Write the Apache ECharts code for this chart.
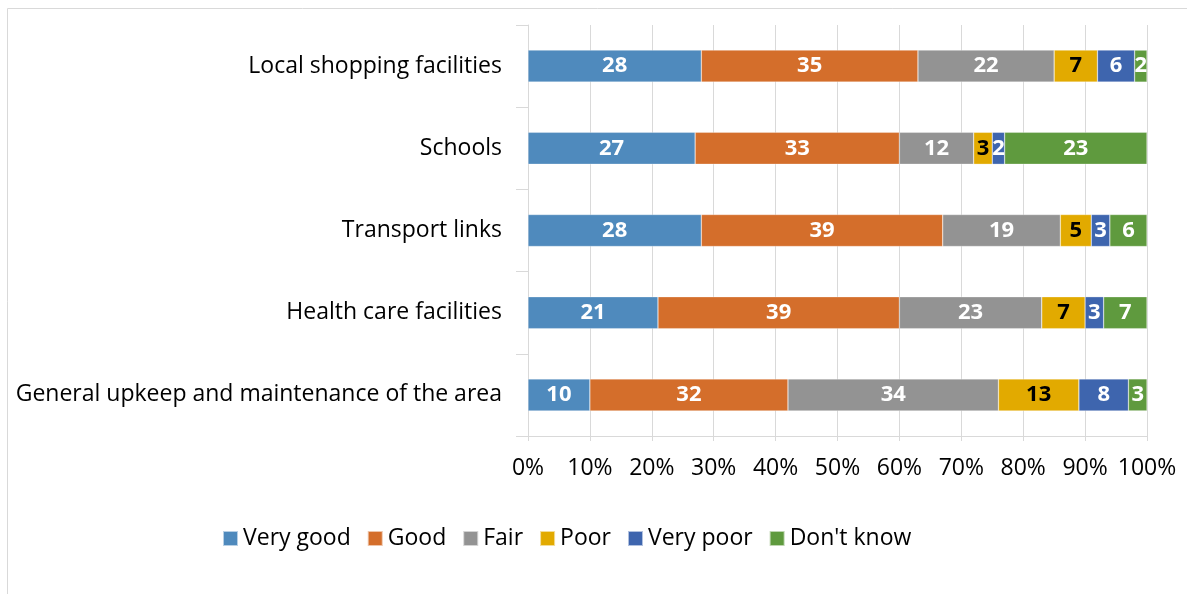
<!DOCTYPE html>
<html>
<head>
<meta charset="utf-8">
<script src="https://cdn.jsdelivr.net/npm/echarts@6/dist/echarts.min.js"></script>
<style>
  html, body { margin: 0; padding: 0; background: #fff; }
  #chart { width: 1187px; height: 594px; }
</style>
</head>
<body>
<div id="chart"></div>
<script>
// Survey ratings of local services, top row first
const categories = [
  'Local shopping facilities',
  'Schools',
  'Transport links',
  'Health care facilities',
  'General upkeep and maintenance of the area'
];
const seriesNames = ['Very good', 'Good', 'Fair', 'Poor', 'Very poor', "Don't know"];
const veryGood = [28, 27, 28, 21, 10];
const good     = [35, 33, 39, 39, 32];
const fair     = [22, 12, 19, 23, 34];
const poor     = [7, 3, 5, 7, 13];
const veryPoor = [6, 2, 3, 3, 8];
const dontKnow = [2, 23, 6, 7, 3];
const xTicks = [0, 10, 20, 30, 40, 50, 60, 70, 80, 90, 100];

const colors = ['#4F8ABD', '#D46E2B', '#939393', '#E2AA00', '#3E65AE', '#5F9A3E'];
const labelColors = ['#fff', '#fff', '#fff', '#000', '#fff', '#fff'];
const values = [veryGood, good, fair, poor, veryPoor, dontKnow];
const FONT = 'Open Sans';

const chart = echarts.init(document.getElementById('chart'));
chart.setOption({
  animation: false,
  textStyle: { fontFamily: FONT },
  graphic: [{
    type: 'rect',
    shape: { x: 7.5, y: 8.5, width: 1200, height: 600 },
    style: { fill: 'none', stroke: '#d9d9d9', lineWidth: 1 },
    silent: true
  }],
  legend: {
    data: seriesNames,
    top: 522,
    left: 217,
    icon: 'rect',
    itemWidth: 15,
    itemHeight: 15,
    itemGap: 16,
    textStyle: { fontFamily: FONT, fontSize: 23, color: '#000', padding: [0, 0, 0, 0] }
  },
  grid: { left: 528, right: 40, top: 25, height: 411 },
  xAxis: {
    type: 'value',
    min: 0,
    max: 100,
    interval: 10,
    axisLine: { show: true, lineStyle: { color: '#d9d9d9' } },
    axisTick: { show: true, length: 5, lineStyle: { color: '#d9d9d9' } },
    splitLine: { show: true, lineStyle: { color: '#d9d9d9' } },
    axisLabel: {
      margin: 21,
      fontFamily: FONT,
      fontSize: 23,
      color: '#000',
      formatter: v => (xTicks.includes(v) ? v + '%' : '')
    }
  },
  yAxis: {
    type: 'category',
    inverse: true,
    data: categories,
    axisLine: { show: true, lineStyle: { color: '#d9d9d9' } },
    axisTick: { show: true, length: 12, lineStyle: { color: '#d9d9d9' } },
    axisLabel: { margin: 26, fontFamily: FONT, fontSize: 23, color: '#000' }
  },
  series: seriesNames.map((name, i) => ({
    name,
    type: 'bar',
    stack: 'total',
    barWidth: 32,
    data: values[i],
    itemStyle: { color: colors[i], borderColor: 'rgba(255,255,255,0.6)', borderWidth: 0.5 },
    label: {
      show: true,
      position: 'inside',
      fontFamily: FONT,
      fontWeight: 'bold',
      fontSize: 22,
      color: labelColors[i]
    }
  }))
});
</script>
</body>
</html>
